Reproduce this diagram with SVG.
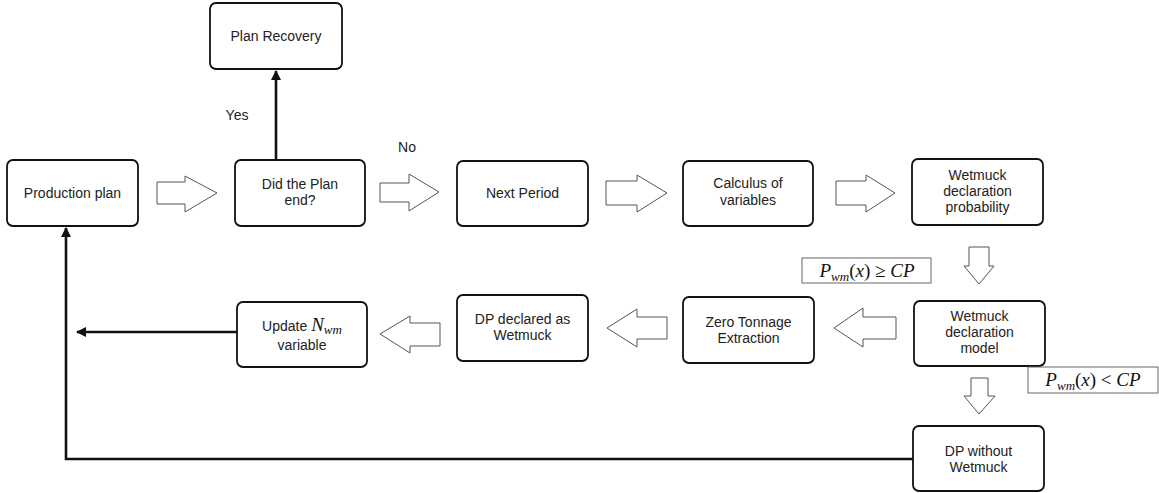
<svg xmlns="http://www.w3.org/2000/svg" width="1159" height="493" viewBox="0 0 1159 493">
<style>
.box{fill:#fff;stroke:#111;stroke-width:1.8}
.t{font-family:"Liberation Sans",Arial,sans-serif;font-size:14px;fill:#222;text-anchor:middle}
.m{font-family:"Liberation Serif","Times New Roman",serif;font-style:italic;font-size:19px;fill:#111}
.ms{font-family:"Liberation Serif","Times New Roman",serif;font-style:italic;font-size:13px;fill:#111}
.blk{fill:#fff;stroke:#555;stroke-width:1}
.con{fill:none;stroke:#111;stroke-width:2.6}
.fbox{fill:#fff;stroke:#666;stroke-width:1}
</style>
<defs>
<marker id="ah" viewBox="0 0 10 10" refX="9" refY="5" markerWidth="4" markerHeight="4" orient="auto" markerUnits="strokeWidth">
<path d="M0,0 L10,5 L0,10 z" fill="#111"/>
</marker>
</defs>

<g id="connectors">
<line class="con" x1="276" y1="160" x2="276" y2="71" marker-end="url(#ah)"/>
<line class="con" x1="237" y1="332" x2="77" y2="332" marker-end="url(#ah)"/>
<polyline class="con" points="913,459 66,459 66,228" marker-end="url(#ah)"/>
<path class="blk" d="M157,182 H185 V176 L217,193 L185,212 V204 H157 Z"/>
<path class="blk" d="M380,183 H409 V174 L439,192 L409,211 V202 H380 Z"/>
<path class="blk" d="M606,181 H637 V175 L667,193 L637,212 V205 H606 Z"/>
<path class="blk" d="M836,181 H866 V175 L895,193 L866,212 V205 H836 Z"/>
<path class="blk" d="M969,247 V266 H964 L979,284 L994,266 H989 V247 Z"/>
<path class="blk" d="M896,317 H863 V308 L834,328 L863,347 V339 H896 Z"/>
<path class="blk" d="M667,317 H637 V309 L607,328 L637,347 V339 H667 Z"/>
<path class="blk" d="M440,323 H410 V316 L380,334 L410,353 V346 H440 Z"/>
<path class="blk" d="M971,378 V396 H964 L979,414 L995,396 H988 V378 Z"/>
<text class="t" x="237" y="120">Yes</text>
<text class="t" x="407" y="152">No</text>
</g>

<g id="production-plan">
<rect class="box" x="7" y="160" width="131" height="66" rx="6"/>
<text class="t" x="72.5" y="198">Production plan</text>
</g>
<g id="plan-recovery">
<rect class="box" x="210" y="3" width="132" height="66" rx="6"/>
<text class="t" x="276" y="41">Plan Recovery</text>
</g>
<g id="plan-end">
<rect class="box" x="235" y="160" width="130" height="66" rx="6"/>
<text class="t" x="300" y="189">Did the Plan</text>
<text class="t" x="300" y="205">end?</text>
</g>
<g id="next-period">
<rect class="box" x="457" y="161" width="131" height="65" rx="6"/>
<text class="t" x="522.5" y="198">Next Period</text>
</g>
<g id="calculus">
<rect class="box" x="683" y="161" width="130" height="65" rx="6"/>
<text class="t" x="748" y="188">Calculus of</text>
<text class="t" x="748" y="205">variables</text>
</g>
<g id="wetmuck-prob">
<rect class="box" x="912" y="159" width="131" height="66" rx="6"/>
<text class="t" x="977.5" y="180">Wetmuck</text>
<text class="t" x="977.5" y="196">declaration</text>
<text class="t" x="977.5" y="212">probability</text>
</g>
<g id="cond-ge">
<rect class="fbox" x="802" y="258" width="129" height="25"/>
<text class="m" x="867" y="277" text-anchor="middle">P<tspan class="ms" dy="4">wm</tspan><tspan dy="-4" font-style="normal">(</tspan>x<tspan font-style="normal">) ≥ </tspan>CP</text>
</g>
<g id="wetmuck-model">
<rect class="box" x="914" y="301" width="131" height="65" rx="6"/>
<text class="t" x="979.5" y="321">Wetmuck</text>
<text class="t" x="979.5" y="337">declaration</text>
<text class="t" x="979.5" y="353">model</text>
</g>
<g id="zero-tonnage">
<rect class="box" x="683" y="297" width="131" height="66" rx="6"/>
<text class="t" x="748.5" y="327">Zero Tonnage</text>
<text class="t" x="748.5" y="343">Extraction</text>
</g>
<g id="dp-declared">
<rect class="box" x="457" y="295" width="131" height="66" rx="6"/>
<text class="t" x="522.5" y="324">DP declared as</text>
<text class="t" x="522.5" y="340">Wetmuck</text>
</g>
<g id="update">
<rect class="box" x="237" y="302" width="130" height="65" rx="6"/>
<text class="t" x="302" y="331"><tspan>Update </tspan><tspan class="m" font-size="18">N</tspan><tspan class="ms" dy="3">wm</tspan></text>
<text class="t" x="302" y="350">variable</text>
</g>
<g id="cond-lt">
<rect class="fbox" x="1028" y="367" width="130" height="26"/>
<text class="m" x="1093" y="386" text-anchor="middle">P<tspan class="ms" dy="4">wm</tspan><tspan dy="-4" font-style="normal">(</tspan>x<tspan font-style="normal">) &lt; </tspan>CP</text>
</g>
<g id="dp-without">
<rect class="box" x="913" y="426" width="131" height="65" rx="6"/>
<text class="t" x="978.5" y="456">DP without</text>
<text class="t" x="978.5" y="472">Wetmuck</text>
</g>
</svg>
